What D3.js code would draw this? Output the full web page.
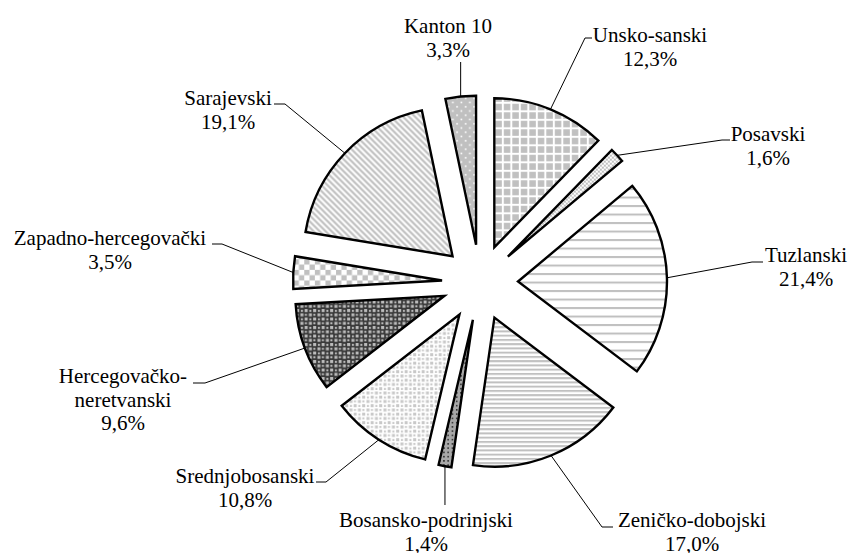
<!DOCTYPE html>
<html>
<head>
<meta charset="utf-8">
<script src="https://cdn.jsdelivr.net/npm/d3@7"></script>
<style>
  html, body { margin: 0; padding: 0; background: #fff; }
  svg { display: block; }
</style>
</head>
<body>
<svg id="chart" width="855" height="553"></svg>
<script>
// ---- data ----
const cantons = ["Unsko-sanski", "Posavski", "Tuzlanski", "Zeničko-dobojski", "Bosansko-podrinjski",
  "Srednjobosanski", "Hercegovačko-neretvanski", "Zapadno-hercegovački", "Sarajevski", "Kanton 10"];
const shares = [12.3, 1.6, 21.4, 17.0, 1.4, 10.8, 9.6, 3.5, 19.1, 3.3];
const nameLines = [["Unsko-sanski"], ["Posavski"], ["Tuzlanski"], ["Zeničko-dobojski"], ["Bosansko-podrinjski"],
  ["Srednjobosanski"], ["Hercegovačko-", "neretvanski"], ["Zapadno-hercegovački"], ["Sarajevski"], ["Kanton 10"]];

// ---- layout (positions only) ----
const W = 855, H = 553;
const center = [480, 282.5];
const radius = 149;
const explode = 38;
const fontSize = 21, lineGap = 23.5;
// label text centre x, first baseline y, leader elbow [x,y], leader end x (null = straight line)
const labelLayout = [
  {tx: 650, ty: 42, elbow: [585, 38], endX: 592},
  {tx: 768, ty: 141, elbow: [722, 140], endX: 730},
  {tx: 806, ty: 262, elbow: [752, 262], endX: 763},
  {tx: 692, ty: 527, elbow: [602, 527], endX: 613},
  {tx: 426, ty: 527, elbow: null, lineEndY: 505},
  {tx: 245, ty: 483, elbow: [326, 482], endX: 316},
  {tx: 123, ty: 383, elbow: [205, 383], endX: 193},
  {tx: 110, ty: 245, elbow: [222, 244], endX: 212},
  {tx: 228, ty: 105, elbow: [285, 104], endX: 274},
  {tx: 448, ty: 33, elbow: null, lineEndY: 62}
];

const svg = d3.select("#chart");
const defs = svg.append("defs");
const G = "#c0c0c0";

function pat(id, size, bg, draw) {
  const p = defs.append("pattern").attr("id", id).attr("patternUnits", "userSpaceOnUse")
    .attr("width", size).attr("height", size);
  p.append("rect").attr("width", size).attr("height", size).attr("fill", bg);
  draw(p, size);
}
// 0 Unsko-sanski: grid of gray squares
pat("p0", 8.5, "#fff", (p) => p.append("rect").attr("x", 1).attr("y", 1).attr("width", 6.5).attr("height", 6.5).attr("fill", G));
// 1 Posavski: fine checker
pat("p1", 4, "#fff", (p) => {
  p.append("rect").attr("width", 2).attr("height", 2).attr("fill", G);
  p.append("rect").attr("x", 2).attr("y", 2).attr("width", 2).attr("height", 2).attr("fill", G);
});
// 2 Tuzlanski: wide horizontal lines
pat("p2", 8.5, "#fff", (p) => p.append("rect").attr("y", 0).attr("width", 8.5).attr("height", 2).attr("fill", G));
// 3 Zeničko-dobojski: narrow horizontal lines
pat("p3", 4.25, "#fff", (p) => p.append("rect").attr("y", 0).attr("width", 4.25).attr("height", 2).attr("fill", G));
// 4 Bosansko-podrinjski: gray with dark dots
pat("p4", 4.25, "#a8a8a8", (p) => {
  p.append("rect").attr("x", 0).attr("y", 0).attr("width", 1.6).attr("height", 1.6).attr("fill", "#333");
});
// 5 Srednjobosanski: confetti on white
function confetti(p, fg) {
  [[0.5, 0.5, 3], [4.75, 4.75, 3], [5, 1, 2], [1, 5.5, 2]].forEach(([x, y, s]) =>
    p.append("rect").attr("x", x).attr("y", y).attr("width", s).attr("height", s).attr("fill", fg));
}
pat("p5", 8.5, "#fff", (p) => confetti(p, "#c8c8c8"));
// 6 Hercegovačko-neretvanski: confetti on dark
pat("p6", 8.5, "#383838", (p) => confetti(p, "#bdbdbd"));
// 7 Zapadno-hercegovački: large checker
pat("p7", 10.6, "#fff", (p) => {
  p.append("rect").attr("width", 5.3).attr("height", 5.3).attr("fill", G);
  p.append("rect").attr("x", 5.3).attr("y", 5.3).attr("width", 5.3).attr("height", 5.3).attr("fill", G);
});
// 8 Sarajevski: wide diagonal stripes
pat("p8", 6, "#fff", (p) => {
  p.append("path").attr("d", "M-3,-3 L9,9 M-3,3 L3,9 M3,-3 L9,3").attr("stroke", G).attr("stroke-width", 2.2);
});
// 9 Kanton 10: gray with white dots
pat("p9", 8.5, G, (p) => {
  p.append("rect").attr("x", 1.5).attr("y", 1.5).attr("width", 1.6).attr("height", 1.6).attr("fill", "#fff");
  p.append("rect").attr("x", 5.75).attr("y", 5.75).attr("width", 1.6).attr("height", 1.6).attr("fill", "#fff");
});

const pie = d3.pie().sort(null).value(d => d)(shares);
const arc = d3.arc().innerRadius(0).outerRadius(radius);

const g = svg.append("g").attr("transform", `translate(${center[0]},${center[1]})`);

pie.forEach((d, i) => {
  const mid = (d.startAngle + d.endAngle) / 2;
  const ox = Math.sin(mid) * explode, oy = -Math.cos(mid) * explode;
  g.append("path")
    .attr("d", arc(d))
    .attr("transform", `translate(${ox},${oy})`)
    .attr("fill", `url(#p${i})`)
    .attr("stroke", "#000")
    .attr("stroke-width", 2.4)
    .attr("stroke-linejoin", "miter");
});

// leaders and labels
const fmt = v => d3.format(".1f")(v).replace(".", ",") + "%";
pie.forEach((d, i) => {
  const mid = (d.startAngle + d.endAngle) / 2;
  const r = explode + radius;
  const sx = center[0] + Math.sin(mid) * r, sy = center[1] - Math.cos(mid) * r;
  const L = labelLayout[i];
  let pts;
  if (L.elbow) pts = [[sx, sy], L.elbow, [L.endX, L.elbow[1]]];
  else pts = [[sx, sy], [sx, L.lineEndY]];
  svg.append("path").attr("d", d3.line()(pts)).attr("fill", "none").attr("stroke", "#000").attr("stroke-width", 1);

  const lines = nameLines[i].concat([fmt(shares[i])]);
  const t = svg.append("text")
    .attr("font-family", "'Liberation Serif', 'Times New Roman', serif")
    .attr("font-size", fontSize)
    .attr("text-anchor", "middle")
    .attr("fill", "#000");
  lines.forEach((s, k) => t.append("tspan").attr("x", L.tx).attr("y", L.ty + k * lineGap).text(s));
});
</script>
</body>
</html>
